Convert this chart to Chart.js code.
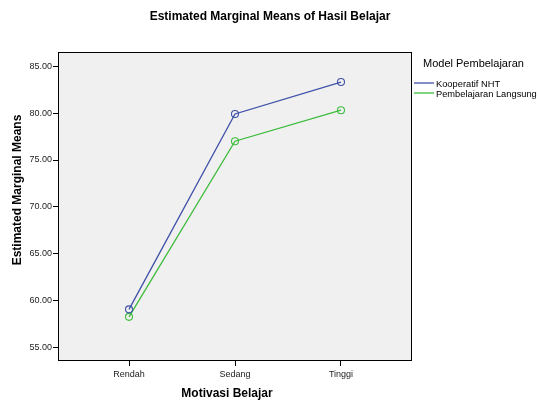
<!DOCTYPE html>
<html>
<head>
<meta charset="utf-8">
<script src="https://cdn.jsdelivr.net/npm/chart.js@4"></script>
<style>
  html, body { margin: 0; padding: 0; background: #fff; }
  #wrap { width: 538px; height: 403px; position: relative; }
</style>
</head>
<body>
<div id="wrap"><canvas id="grafico"></canvas></div>
<script>
// data
const kategori = ["Rendah", "Sedang", "Tinggi"];
const kooperatifNHT = [59.1, 79.9, 83.3];
const langsung = [58.3, 77.0, 80.3];
const yTicks = [55, 60, 65, 70, 75, 80, 85];
const namaSeri = ["Kooperatif NHT", "Pembelajaran Langsung"];
const warnaSeri = ["#3f51a8", "#3cbc3c"];

const FONT = "Arial, 'Liberation Sans', sans-serif";

// background, frame, titles and legend drawn by hand like the SPSS output
const spssPlugin = {
  id: "spss",
  beforeDatasetsDraw(chart) {
    const { ctx, chartArea: a } = chart;
    ctx.save();
    ctx.fillStyle = "#f0f0f0";
    ctx.fillRect(a.left, a.top, a.right - a.left, a.bottom - a.top);
    ctx.restore();
  },
  afterDraw(chart) {
    const { ctx, chartArea: a } = chart;
    ctx.save();
    ctx.strokeStyle = "#000";
    ctx.lineWidth = 1;
    ctx.strokeRect(a.left + 0.5, a.top + 0.5, a.right - a.left - 1, a.bottom - a.top - 1);

    ctx.fillStyle = "#000";
    ctx.textAlign = "center";
    ctx.textBaseline = "middle";
    ctx.font = "bold 12px " + FONT;
    ctx.fillText("Estimated Marginal Means of Hasil Belajar", 270, 17);
    ctx.fillText("Motivasi Belajar", 227, 394);

    ctx.save();
    ctx.translate(18, 190);
    ctx.rotate(-Math.PI / 2);
    ctx.fillText("Estimated Marginal Means", 0, 0);
    ctx.restore();

    // legend
    ctx.textAlign = "left";
    ctx.font = "11px " + FONT;
    ctx.fillText("Model Pembelajaran", 423, 64);
    ctx.font = "9.3px " + FONT;
    namaSeri.forEach((nama, i) => {
      const y = 83 + i * 10;
      ctx.strokeStyle = warnaSeri[i];
      ctx.lineWidth = 1.3;
      ctx.beginPath();
      ctx.moveTo(414, y);
      ctx.lineTo(434, y);
      ctx.stroke();
      ctx.fillStyle = "#000";
      ctx.fillText(nama, 436, y + 1);
    });
    ctx.restore();
  }
};

const seri = [kooperatifNHT, langsung].map((vals, i) => ({
  label: namaSeri[i],
  data: vals.map((v, k) => ({ x: k, y: v })),
  borderColor: warnaSeri[i],
  backgroundColor: "rgba(0,0,0,0)",
  borderWidth: 1.3,
  pointRadius: 3.5,
  pointBorderWidth: 1.1,
  pointStyle: "circle",
  tension: 0
}));

new Chart(document.getElementById("grafico"), {
  type: "line",
  data: { datasets: seri },
  options: {
    responsive: true,
    maintainAspectRatio: false,
    animation: false,
    layout: { padding: { top: 52, right: 126, left: 0, bottom: 0 } },
    plugins: {
      legend: { display: false },
      title: { display: false },
      tooltip: { enabled: false }
    },
    scales: {
      x: {
        type: "linear",
        min: -0.67,
        max: 2.67,
        afterBuildTicks: axis => { axis.ticks = kategori.map((_, i) => ({ value: i })); },
        afterFit: axis => { axis.height = 42; },
        ticks: {
          callback: v => kategori[v],
          font: { family: FONT, size: 9 },
          color: "#222",
          padding: 3,
          maxRotation: 0
        },
        grid: { drawOnChartArea: false, drawTicks: true, tickLength: 5, color: "#000" },
        border: { display: false }
      },
      y: {
        type: "linear",
        min: 53.6,
        max: 86.5,
        afterBuildTicks: axis => { axis.ticks = yTicks.map(v => ({ value: v })); },
        afterFit: axis => { axis.width = 58; },
        ticks: {
          callback: v => v.toFixed(2),
          font: { family: FONT, size: 9 },
          color: "#222",
          padding: 1
        },
        grid: { drawOnChartArea: false, drawTicks: true, tickLength: 5, color: "#000" },
        border: { display: false }
      }
    }
  },
  plugins: [spssPlugin]
});
</script>
</body>
</html>
